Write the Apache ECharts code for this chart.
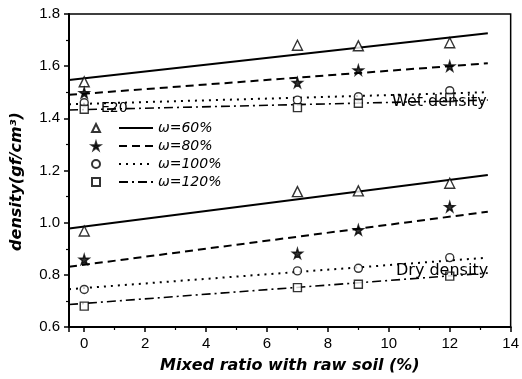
<!DOCTYPE html>
<html>
<head>
<meta charset="utf-8">
<script src="https://cdn.jsdelivr.net/npm/echarts@6/dist/echarts.min.js"></script>
<style>html,body{margin:0;padding:0;background:#fff}#c{width:522px;height:379px}</style>
</head>
<body>
<div id="c"></div>
<script>
// ---- data ----
var xValues = [0, 7, 9, 12];
var wet60  = [1.54, 1.68, 1.678, 1.69];
var wet80  = [1.498, 1.537, 1.585, 1.60];
var wet100 = [1.46, 1.47, 1.483, 1.506];
var wet120 = [1.435, 1.441, 1.458, 1.48];
var dry60  = [0.968, 1.119, 1.122, 1.151];
var dry80  = [0.859, 0.882, 0.972, 1.061];
var dry100 = [0.744, 0.815, 0.825, 0.866];
var dry120 = [0.680, 0.751, 0.764, 0.795];
// fitted trend lines (start / end)
var fitX = [-0.5, 13.25];
var wetFit60  = [1.547, 1.726];
var wetFit80  = [1.490, 1.611];
var wetFit100 = [1.454, 1.500];
var wetFit120 = [1.432, 1.470];
var dryFit60  = [0.978, 1.183];
var dryFit80  = [0.831, 1.042];
var dryFit100 = [0.745, 0.866];
var dryFit120 = [0.686, 0.807];
var lineNames = ['\u03c9=60%', '\u03c9=80%', '\u03c9=100%', '\u03c9=120%'];
var markNames = ['m60', 'm80', 'm100', 'm120'];
var xTitle = 'Mixed ratio with raw soil (%)';
var yTitle = 'density(gf/cm\u00b3)';

var starPath = 'path://M50,0 L61,35 L98,35 L68,57 L79,91 L50,70 L21,91 L32,57 L2,35 L39,35 Z';
var markerStyles = [
  {symbol: 'triangle', size: 10, fill: '#fff'},
  {symbol: starPath, size: 10, fill: '#000'},
  {symbol: 'circle', size: 8, fill: '#fff'},
  {symbol: 'rect', size: 8, fill: '#fff'}
];
var lineTypes = ['solid', [8, 5], [2, 5], [9, 4, 2, 4]];
var lineWidths = [2, 2, 2, 1.6];

function pts(ys, xs) { return xs.map(function (x, i) { return [x, ys[i]]; }); }

var series = [];
var wetSets = [wet60, wet80, wet100, wet120];
var drySets = [dry60, dry80, dry100, dry120];
var wetFits = [wetFit60, wetFit80, wetFit100, wetFit120];
var dryFits = [dryFit60, dryFit80, dryFit100, dryFit120];
[wetSets, drySets].forEach(function (sets) {
  sets.forEach(function (ys, k) {
    var m = markerStyles[k];
    series.push({
      type: 'scatter', name: markNames[k], data: pts(ys, xValues),
      symbol: m.symbol, symbolSize: m.size, z: 5,
      itemStyle: {color: m.fill, borderColor: '#000', borderWidth: 1.4}
    });
  });
});
[wetFits, dryFits].forEach(function (fits) {
  fits.forEach(function (ys, k) {
    series.push({
      type: 'line', name: lineNames[k], data: pts(ys, fitX),
      symbol: 'none', showSymbol: false, z: 3, silent: true,
      itemStyle: {color: '#000'},
      lineStyle: {color: '#000', width: lineWidths[k], type: lineTypes[k]}
    });
  });
});

var chart = echarts.init(document.getElementById('c'), null, {renderer: 'canvas'});
chart.setOption({
  animation: false,
  backgroundColor: '#fff',
  grid: {left: 69, right: 8, top: 14, bottom: 52, show: true, borderColor: '#000', borderWidth: 1.5},
  xAxis: {
    type: 'value', min: -0.5, max: 14, splitNumber: 7,
    axisLine: {show: true, onZero: false, lineStyle: {color: '#000', width: 2}},
    axisTick: {show: true, inside: false, length: 5, lineStyle: {color: '#000', width: 1.5}},
    minorTick: {show: true, splitNumber: 2, length: 3, lineStyle: {color: '#000', width: 1.2}},
    splitLine: {show: false},
    axisLabel: {showMinLabel: false, margin: 9, color: '#000', fontSize: 15, fontFamily: 'Liberation Sans'},
    name: xTitle, nameLocation: 'middle', nameGap: 31,
    nameTextStyle: {color: '#000', fontSize: 16, fontWeight: 'bold', fontStyle: 'italic', fontFamily: 'DejaVu Sans'}
  },
  yAxis: {
    type: 'value', min: 0.6, max: 1.8, interval: 0.2,
    axisLine: {show: true, onZero: false, lineStyle: {color: '#000', width: 2}},
    axisTick: {show: true, inside: false, length: 5, lineStyle: {color: '#000', width: 1.5}},
    minorTick: {show: true, splitNumber: 2, length: 3, lineStyle: {color: '#000', width: 1.2}},
    splitLine: {show: false},
    axisLabel: {margin: 9, color: '#000', fontSize: 15, fontFamily: 'Liberation Sans',
      formatter: function (v) { return v.toFixed(1); }},
    name: yTitle, nameLocation: 'middle', nameGap: 44, nameRotate: 90,
    nameTextStyle: {color: '#000', fontSize: 16, fontWeight: 'bold', fontStyle: 'italic', fontFamily: 'DejaVu Sans',
      padding: [0, 22, 0, 0]}
  },
  legend: [
    {orient: 'vertical', left: 91, top: 119, padding: 0, data: markNames, itemWidth: 8, itemHeight: 8, itemGap: 0,
     selectedMode: false, formatter: function () { return ' '; },
     textStyle: {fontSize: 14, lineHeight: 18}},
    {orient: 'vertical', left: 118, top: 119, padding: 0, data: lineNames, itemWidth: 34, itemHeight: 10, itemGap: 0,
     selectedMode: false,
     itemStyle: {color: 'transparent', borderWidth: 0, opacity: 0},
     textStyle: {color: '#000', fontSize: 14, lineHeight: 18, fontStyle: 'italic', fontFamily: 'DejaVu Sans'}}
  ],
  graphic: [
    {type: 'text', left: 101, top: 101, z: 10, style: {text: 'E20', fill: '#000', fontSize: 14, fontFamily: 'DejaVu Sans'}},
    {type: 'text', left: 392, top: 94, z: 10, style: {text: 'Wet density', fill: '#000', fontSize: 16, fontFamily: 'DejaVu Sans'}},
    {type: 'text', left: 396, top: 263, z: 10, style: {text: 'Dry density', fill: '#000', fontSize: 16, fontFamily: 'DejaVu Sans'}}
  ],
  series: series
});
</script>
</body>
</html>
